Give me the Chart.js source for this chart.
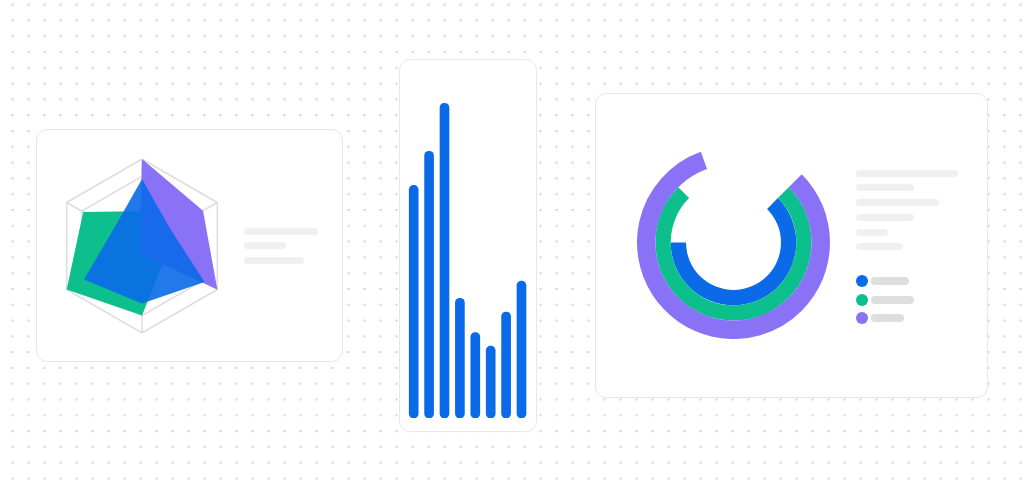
<!DOCTYPE html>
<html>
<head>
<meta charset="utf-8">
<script src="https://cdn.jsdelivr.net/npm/chart.js@4.4.0/dist/chart.umd.min.js"></script>
<style>
  html, body { margin: 0; padding: 0; }
  body {
    width: 1024px; height: 489px; position: relative; overflow: hidden;
    background-color: #fff;
    background-image: radial-gradient(circle, #d4d4d4 1.1px, transparent 1.6px);
    background-size: 16px 15.8px;
    background-position: 4.5px -3.3px;
    font-family: "Noto Sans", sans-serif;
  }
  .card {
    position: absolute; background: #fff;
    border: 1.5px solid #e7e7e7; border-radius: 11px; box-sizing: border-box;
  }
  .box { position: absolute; }
  .line { position: absolute; height: 7px; border-radius: 4px; background: #f0f0f0; }
  .dot { position: absolute; width: 12px; height: 12px; border-radius: 50%; }
  .key { position: absolute; height: 8px; border-radius: 4px; background: #dedede; }
</style>
</head>
<body>
<div class="card" style="left:36px;top:129px;width:307px;height:233px;"></div>
<div class="card" style="left:399px;top:59px;width:138px;height:373px;"></div>
<div class="card" style="left:595px;top:93px;width:393px;height:305px;"></div>

<div class="box" style="left:54.5px;top:158.8px;width:175px;height:175px;"><canvas id="radar"></canvas></div>
<div class="box" style="left:406.3px;top:76px;width:123.2px;height:342px;"><canvas id="bars"></canvas></div>
<div class="box" style="left:636.5px;top:145.5px;width:193px;height:193px;"><canvas id="rings"></canvas></div>

<div class="line" style="left:244px;top:227.5px;width:74px;"></div>
<div class="line" style="left:244px;top:241.5px;width:42px;"></div>
<div class="line" style="left:244px;top:256.5px;width:60px;"></div>

<div class="line" style="left:856px;top:169.5px;width:102px;"></div>
<div class="line" style="left:856px;top:184px;width:58px;"></div>
<div class="line" style="left:856px;top:198.5px;width:83px;"></div>
<div class="line" style="left:856px;top:214px;width:58px;"></div>
<div class="line" style="left:856px;top:228.5px;width:32px;"></div>
<div class="line" style="left:856px;top:243px;width:47px;"></div>

<div class="dot" style="left:856px;top:275px;background:#0a6ae8;"></div>
<div class="key" style="left:871px;top:277px;width:38px;"></div>
<div class="dot" style="left:856px;top:293.5px;background:#0cbf8c;"></div>
<div class="key" style="left:871px;top:295.5px;width:43px;"></div>
<div class="dot" style="left:856px;top:312px;background:#8a72f7;"></div>
<div class="key" style="left:871px;top:314px;width:33px;"></div>

<script>
// radar: six axes, values in % of the outer ring
const radarAxes = ['A', 'B', 'C', 'D', 'E', 'F'];
const radarBlue = [77, 38, 83, 66, 77, 38];
const radarPurple = [100, 81, 100, 10, 5, 3];
const radarGreen = [40, 35, 30, 80, 100, 78];

// bar card
const barLabels = ['1', '2', '3', '4', '5', '6', '7', '8'];
const barValues = [68, 78, 92, 35, 25, 21, 31, 40];

// rings: filled part vs empty rest
const ringLabels = ['value', 'rest'];
const ringPurple = [82, 18];
const ringGreen = [75, 25];
const ringBlue = [62.5, 37.5];

const BLUE = '#0a6ae8';
const GREEN = '#0cbf8c';
const PURPLE = '#8a72f7';

Chart.defaults.animation = false;
Chart.defaults.plugins.legend.display = false;
Chart.defaults.plugins.tooltip.enabled = false;

new Chart(document.getElementById('radar'), {
    type: 'radar',
    data: {
        labels: radarAxes,
        datasets: [
            { data: radarBlue, backgroundColor: 'rgba(10,106,232,0.9)', borderWidth: 0, pointRadius: 0, fill: true },
            { data: radarPurple, backgroundColor: PURPLE, borderWidth: 0, pointRadius: 0, fill: true },
            { data: radarGreen, backgroundColor: GREEN, borderWidth: 0, pointRadius: 0, fill: true }
        ]
    },
    options: {
        responsive: true,
        maintainAspectRatio: false,
        layout: { padding: 0 },
        scales: {
            r: {
                min: 0,
                max: 100,
                ticks: { display: false, stepSize: 80 },
                pointLabels: { display: false },
                grid: { color: '#dcdcdc', lineWidth: 1.5 },
                angleLines: { color: '#dcdcdc', lineWidth: 1.5 }
            }
        }
    }
});

new Chart(document.getElementById('bars'), {
    type: 'bar',
    data: {
        labels: barLabels,
        datasets: [{
            data: barValues,
            backgroundColor: BLUE,
            barThickness: 9,
            borderRadius: 4.5,
            borderSkipped: false
        }]
    },
    options: {
        responsive: true,
        maintainAspectRatio: false,
        layout: { padding: 0 },
        scales: {
            x: { display: false },
            y: { display: false, min: 0, max: 100 }
        }
    }
});

new Chart(document.getElementById('rings'), {
    type: 'doughnut',
    data: {
        labels: ringLabels,
        datasets: [
            { data: ringPurple, backgroundColor: [PURPLE, 'rgba(0,0,0,0)'], weight: 1.2 },
            { data: ringGreen, backgroundColor: [GREEN, 'rgba(0,0,0,0)'], weight: 1 },
            { data: ringBlue, backgroundColor: [BLUE, 'rgba(0,0,0,0)'], weight: 1 }
        ]
    },
    options: {
        responsive: true,
        maintainAspectRatio: false,
        layout: { padding: 0 },
        rotation: 45,
        cutout: '49.2%',
        borderWidth: 0,
        hoverOffset: 0,
        elements: { arc: { borderWidth: 0 } }
    }
});
</script>
</body>
</html>
